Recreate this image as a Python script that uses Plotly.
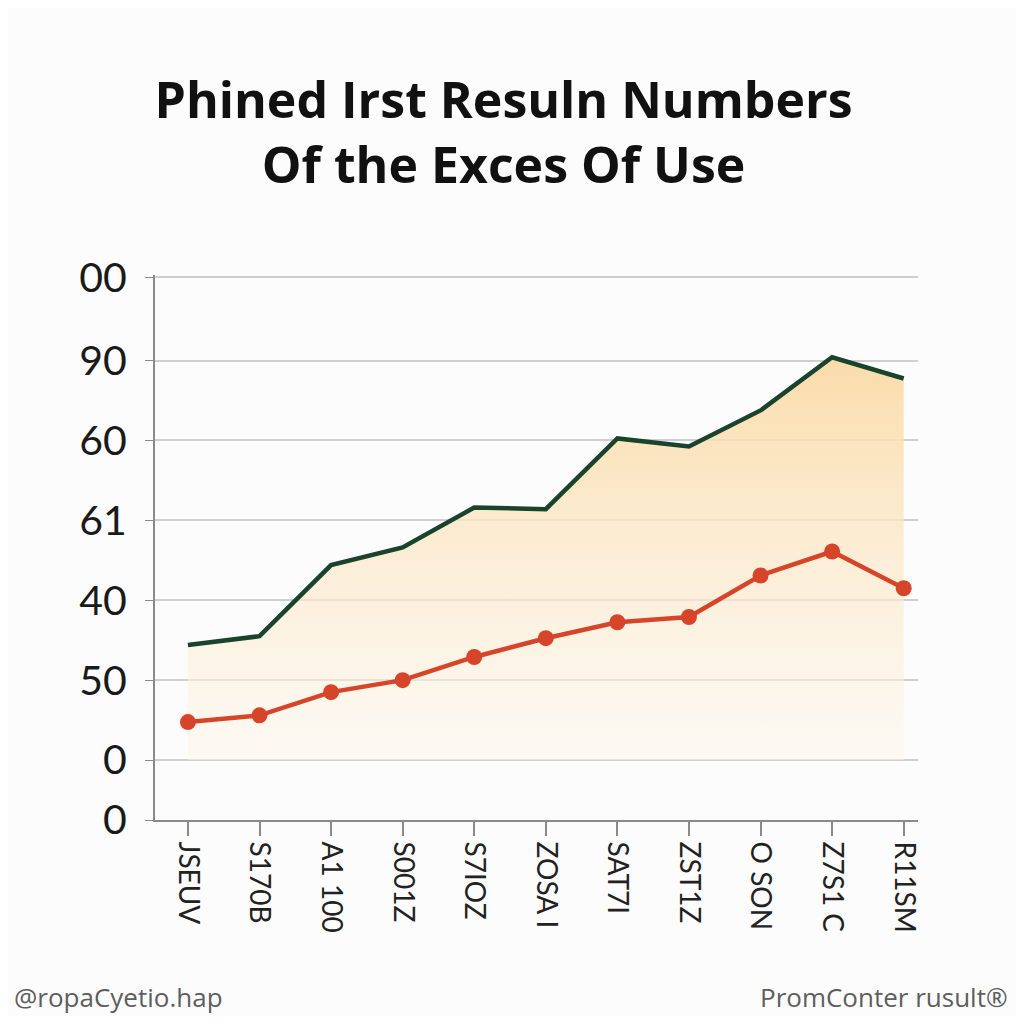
import plotly.graph_objects as go

# categories along the x axis (as printed, rotated)
categories = ["JSEUV", "S170B", "A1 100", "S001Z", "S7IOZ", "ZOSA I",
              "SAT7I", "ZST1Z", "O SON", "Z7S1 C", "R11SM"]
x_idx = list(range(len(categories)))

# series values
green_vals = [21.9, 23.0, 31.9, 34.1, 39.1, 38.9, 47.75, 46.75, 51.25, 57.9, 55.25]
red_vals = [12.25, 13.1, 16.0, 17.5, 20.4, 22.75, 24.75, 25.4, 30.6, 33.6, 29.0]
fill_base = [7.5] * len(categories)

# y tick positions and their (odd) labels
ytick_vals = [0, 7.5, 17.5, 27.5, 37.5, 47.5, 57.5, 67.9]
ytick_text = ["0", "0", "50", "40", "61", "60", "90", "00"]

fig = go.Figure()

# baseline for the shaded area
fig.add_trace(go.Scatter(x=x_idx, y=fill_base, mode='lines',
                         line=dict(width=0), hoverinfo='skip', showlegend=False))
fig.add_trace(go.Scatter(
    x=x_idx, y=green_vals, mode='lines',
    line=dict(color='#1a432d', width=4.5),
    fill='tonexty',
    fillgradient=dict(type='vertical', start=7.5, stop=58,
                      colorscale=[[0, 'rgba(253,246,234,0.5)'],
                                  [1, 'rgba(250,218,165,0.95)']]),
    showlegend=False))
fig.add_trace(go.Scatter(
    x=x_idx, y=red_vals, mode='lines+markers',
    line=dict(color='#d6452a', width=4.5),
    marker=dict(size=16, color='#d6452a'),
    showlegend=False))

fig.update_layout(
    width=1008, height=1008,
    paper_bgcolor='#fcfcfc', plot_bgcolor='#fcfcfc',
    margin=dict(l=147, r=98, t=267, b=196),
    font=dict(family='Lato, "Open Sans", sans-serif', color='#222'),
    title=dict(text='<b>Phined Irst Resuln Numbers<br>Of the Exces Of Use</b>',
               x=0.4916, xanchor='center', y=0.891, yanchor='middle',
               font=dict(size=50, color='#111', family='"Open Sans", sans-serif')),
    xaxis=dict(range=[-0.46, 10.2], tickvals=x_idx, ticktext=categories,
               tickangle=90, tickfont=dict(size=28, color='#222'),
               showgrid=False, zeroline=False, showline=True,
               linecolor='#8a8a8a', linewidth=2,
               ticks='outside', ticklen=14, tickcolor='#8a8a8a', tickwidth=2),
    yaxis=dict(range=[0, 68.2], tickvals=ytick_vals, ticktext=ytick_text,
               tickfont=dict(size=41, color='#1a1a1a'),
               showgrid=True, gridcolor='#cfcfcf', gridwidth=1.5,
               zeroline=False, showline=True, linecolor='#8a8a8a', linewidth=2,
               ticks='outside', ticklen=8, tickcolor='#8a8a8a',
               ticklabelstandoff=10),
)

fig.add_annotation(text='@ropaCyetio.hap', xref='paper', yref='paper',
                   x=-0.187, y=-0.325, xanchor='left', yanchor='middle',
                   showarrow=False,
                   font=dict(size=26, color='#5e5e5e', family='"Open Sans", sans-serif'))
fig.add_annotation(text='PromConter rusult®', xref='paper', yref='paper',
                   x=1.12, y=-0.325, xanchor='right', yanchor='middle',
                   showarrow=False,
                   font=dict(size=26, color='#5e5e5e', family='"Open Sans", sans-serif'))

fig.write_html("out.html")
